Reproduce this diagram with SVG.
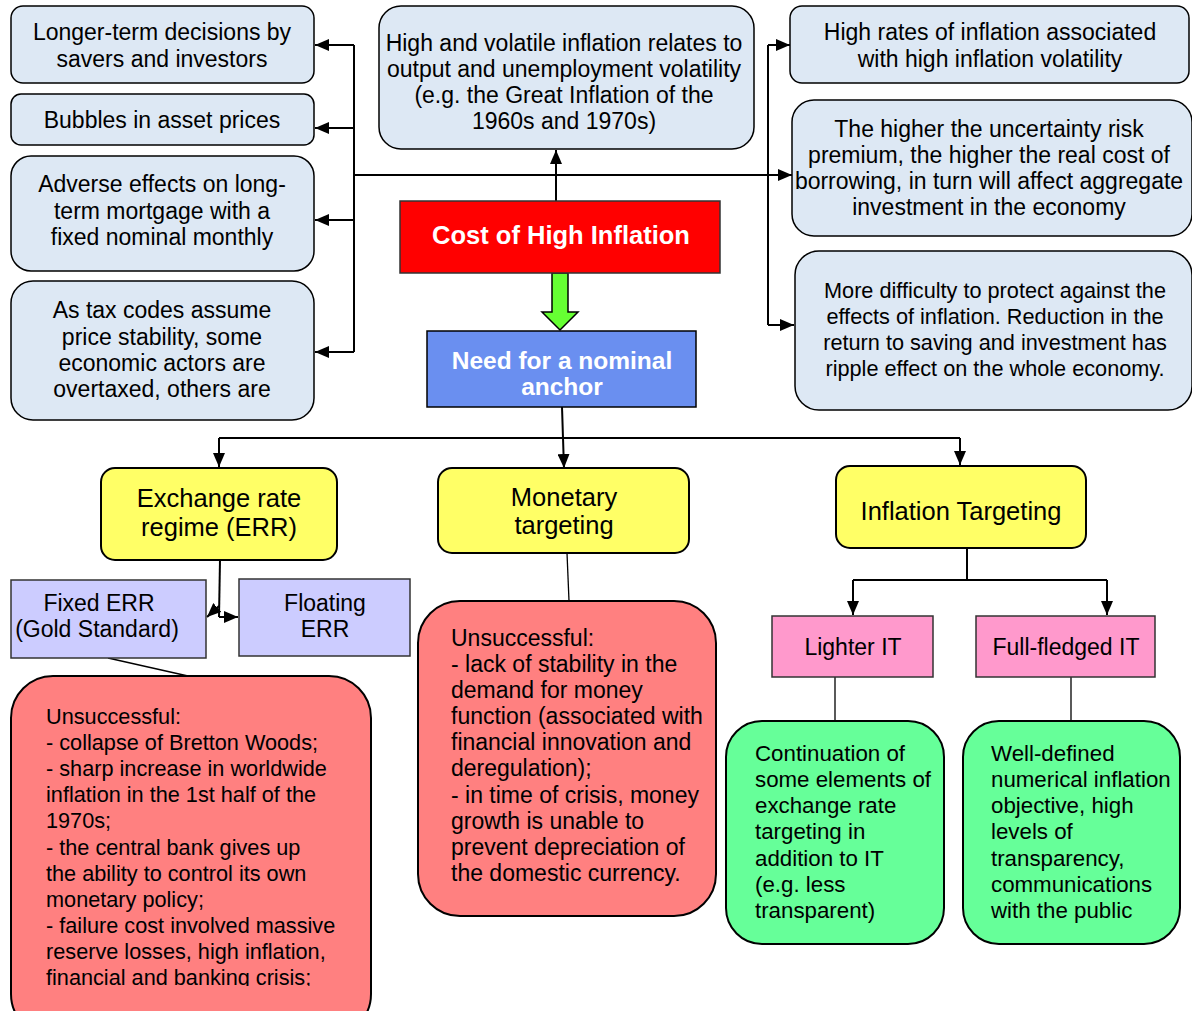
<svg xmlns="http://www.w3.org/2000/svg" width="1192" height="1011" viewBox="0 0 1192 1011">
<defs>
<marker id="ah" viewBox="0 0 14 12" refX="14" refY="6" markerWidth="14" markerHeight="12" markerUnits="userSpaceOnUse" orient="auto">
<path d="M0,0 L14,6 L0,12 Z" fill="#000"/>
</marker>
<clipPath id="cR2"><rect x="795" y="100" width="397" height="136"/></clipPath>
<clipPath id="cF1"><rect x="11" y="676" width="360" height="310"/></clipPath>
</defs>
<style>
text{font-family:"Liberation Sans",Arial,sans-serif;fill:#000;font-size:23px}
.c{text-anchor:middle}
.b{font-weight:bold;fill:#fff}
.s{font-size:21.7px}
.g{font-size:22.3px}
.y{font-size:25.5px}
.lb{fill:#dde8f4;stroke:#000;stroke-width:1.5}
.yl{fill:#ffff66;stroke:#000;stroke-width:2}
.lv{fill:#ccccff;stroke:#333;stroke-width:1.5}
.pk{fill:#ff99cc;stroke:#333;stroke-width:1.5}
.rd{fill:#ff8080;stroke:#000;stroke-width:2}
.gr{fill:#66ff99;stroke:#000;stroke-width:2}
.ln{fill:none;stroke:#000;stroke-width:2}
.th{fill:none;stroke:#000;stroke-width:1.3}
</style>
<rect width="1192" height="1011" fill="#fff"/>

<g id="connectors">
<polyline class="ln" points="354,45 354,352"/>
<line class="ln" x1="354" y1="45" x2="315" y2="45" marker-end="url(#ah)"/>
<line class="ln" x1="354" y1="128" x2="315" y2="128" marker-end="url(#ah)"/>
<line class="ln" x1="354" y1="220" x2="315" y2="220" marker-end="url(#ah)"/>
<line class="ln" x1="354" y1="352" x2="315" y2="352" marker-end="url(#ah)"/>
<line class="ln" x1="354" y1="175" x2="792" y2="175" marker-end="url(#ah)"/>
<line class="ln" x1="556" y1="201" x2="556" y2="150" marker-end="url(#ah)"/>
<polyline class="ln" points="768,45 768,325"/>
<line class="ln" x1="768" y1="45" x2="790" y2="45" marker-end="url(#ah)"/>
<line class="ln" x1="768" y1="325" x2="794" y2="325" marker-end="url(#ah)"/>
<path d="M552,273 L568,273 L568,312 L578,312 L560,330 L542,312 L552,312 Z" fill="#66ff33" stroke="#000" stroke-width="1.5"/>
<polyline class="ln" points="562,407 563,438"/>
<polyline class="ln" points="219,438 960,438"/>
<line class="ln" x1="219" y1="438" x2="219" y2="467" marker-end="url(#ah)"/>
<line class="ln" x1="563" y1="438" x2="564" y2="468" marker-end="url(#ah)"/>
<line class="ln" x1="960" y1="438" x2="960" y2="465" marker-end="url(#ah)"/>
<polyline class="ln" points="220,560 219,617"/>
<line class="ln" x1="219" y1="617" x2="238" y2="617" marker-end="url(#ah)"/>
<line class="ln" x1="219" y1="606" x2="207" y2="617" marker-end="url(#ah)"/>
<line class="th" x1="108" y1="658" x2="188" y2="676"/>
<line class="th" x1="567" y1="553" x2="569" y2="601"/>
<polyline class="ln" points="967,548 967,580"/>
<polyline class="ln" points="853,580 1107,580"/>
<line class="ln" x1="853" y1="580" x2="853" y2="615" marker-end="url(#ah)"/>
<line class="ln" x1="1107" y1="580" x2="1107" y2="615" marker-end="url(#ah)"/>
<line class="th" x1="835" y1="677" x2="835" y2="721"/>
<line class="th" x1="1071" y1="675" x2="1071" y2="721"/>
</g>

<g id="n-longer">
<rect class="lb" x="11" y="6" width="303" height="77" rx="12"/>
<text class="c" x="162" y="40">Longer-term decisions by</text>
<text class="c" x="162" y="67">savers and investors</text>
</g>
<g id="n-bubbles">
<rect class="lb" x="11" y="94" width="303" height="51" rx="10"/>
<text class="c" x="162" y="128">Bubbles in asset prices</text>
</g>
<g id="n-mortgage">
<rect class="lb" x="11" y="156" width="303" height="115" rx="20"/>
<text class="c" x="162" y="192">Adverse effects on long-</text>
<text class="c" x="162" y="219">term mortgage with a</text>
<text class="c" x="162" y="245">fixed nominal monthly</text>
</g>
<g id="n-tax">
<rect class="lb" x="11" y="281" width="303" height="139" rx="22"/>
<text class="c" x="162" y="318">As tax codes assume</text>
<text class="c" x="162" y="345">price stability, some</text>
<text class="c" x="162" y="371">economic actors are</text>
<text class="c" x="162" y="397">overtaxed, others are</text>
</g>
<g id="n-volatile">
<rect class="lb" x="379" y="6" width="375" height="143" rx="22"/>
<text class="c" x="564" y="51">High and volatile inflation relates to</text>
<text class="c" x="564" y="77">output and unemployment volatility</text>
<text class="c" x="564" y="103">(e.g. the Great Inflation of the</text>
<text class="c" x="564" y="129">1960s and 1970s)</text>
</g>
<g id="n-cost">
<rect x="400" y="201" width="320" height="72" fill="#ff0000" stroke="#333" stroke-width="1.5"/>
<text class="c b" x="561" y="244" style="font-size:25.5px">Cost of High Inflation</text>
</g>
<g id="n-anchor">
<rect x="427" y="331" width="269" height="76" fill="#6a8ff0" stroke="#000" stroke-width="1.5"/>
<text class="c b" x="562" y="369" style="font-size:24.5px">Need for a nominal</text>
<text class="c b" x="562" y="395" style="font-size:24.5px">anchor</text>
</g>
<g id="n-rates">
<rect class="lb" x="790" y="6" width="399" height="77" rx="12"/>
<text class="c" x="990" y="40">High rates of inflation associated</text>
<text class="c" x="990" y="67">with high inflation volatility</text>
</g>
<g id="n-premium">
<rect class="lb" x="792" y="100" width="400" height="136" rx="22"/>
<g clip-path="url(#cR2)">
<text class="c" x="989" y="137">The higher the uncertainty risk</text>
<text class="c" x="989" y="163">premium, the higher the real cost of</text>
<text class="c" x="989" y="189">borrowing, in turn will affect aggregate</text>
<text class="c" x="989" y="215">investment in the economy</text>
</g>
</g>
<g id="n-protect">
<rect class="lb" x="795" y="251" width="397" height="159" rx="24"/>
<text class="c s" x="995" y="298">More difficulty to protect against the</text>
<text class="c s" x="995" y="324">effects of inflation. Reduction in the</text>
<text class="c s" x="995" y="350">return to saving and investment has</text>
<text class="c s" x="995" y="376">ripple effect on the whole economy.</text>
</g>

<g id="n-err">
<rect class="yl" x="101" y="468" width="236" height="92" rx="14"/>
<text class="c y" x="219" y="507">Exchange rate</text>
<text class="c y" x="219" y="536">regime (ERR)</text>
</g>
<g id="n-monetary">
<rect class="yl" x="438" y="468" width="251" height="85" rx="14"/>
<text class="c y" x="564" y="506">Monetary</text>
<text class="c y" x="564" y="534">targeting</text>
</g>
<g id="n-it">
<rect class="yl" x="836" y="466" width="250" height="82" rx="14"/>
<text class="c y" x="961" y="520">Inflation Targeting</text>
</g>
<g id="n-fixed">
<rect class="lv" x="11" y="580" width="195" height="78"/>
<text class="c" x="99" y="611">Fixed ERR</text>
<text class="c" x="97" y="637">(Gold Standard)</text>
</g>
<g id="n-floating">
<rect class="lv" x="239" y="579" width="171" height="77"/>
<text class="c" x="325" y="611">Floating</text>
<text class="c" x="325" y="637">ERR</text>
</g>
<g id="n-lighter">
<rect class="pk" x="772" y="616" width="161" height="61"/>
<text class="c" x="853" y="655">Lighter IT</text>
</g>
<g id="n-full">
<rect class="pk" x="976" y="616" width="179" height="61"/>
<text class="c" x="1066" y="655">Full-fledged IT</text>
</g>

<g id="n-fail-err">
<rect class="rd" x="11" y="676" width="360" height="360" rx="42"/>
<g clip-path="url(#cF1)">
<text class="s" x="46" y="724">Unsuccessful:</text>
<text class="s" x="46" y="750">- collapse of Bretton Woods;</text>
<text class="s" x="46" y="776">- sharp increase in worldwide</text>
<text class="s" x="46" y="802">inflation in the 1st half of the</text>
<text class="s" x="46" y="828">1970s;</text>
<text class="s" x="46" y="855">- the central bank gives up</text>
<text class="s" x="46" y="881">the ability to control its own</text>
<text class="s" x="46" y="907">monetary policy;</text>
<text class="s" x="46" y="933">- failure cost involved massive</text>
<text class="s" x="46" y="959">reserve losses, high inflation,</text>
<text class="s" x="46" y="985">financial and banking crisis;</text>
</g>
</g>
<g id="n-fail-mon">
<rect class="rd" x="418" y="601" width="298" height="315" rx="42"/>
<text x="451" y="646">Unsuccessful:</text>
<text x="451" y="672">- lack of stability in the</text>
<text x="451" y="698">demand for money</text>
<text x="451" y="724">function (associated with</text>
<text x="451" y="750">financial innovation and</text>
<text x="451" y="776">deregulation);</text>
<text x="451" y="803">- in time of crisis, money</text>
<text x="451" y="829">growth is unable to</text>
<text x="451" y="855">prevent depreciation of</text>
<text x="451" y="881">the domestic currency.</text>
</g>
<g id="n-light-desc">
<rect class="gr" x="726" y="721" width="218" height="223" rx="36"/>
<text class="g" x="755" y="761">Continuation of</text>
<text class="g" x="755" y="787">some elements of</text>
<text class="g" x="755" y="813">exchange rate</text>
<text class="g" x="755" y="839">targeting in</text>
<text class="g" x="755" y="866">addition to IT</text>
<text class="g" x="755" y="892">(e.g. less</text>
<text class="g" x="755" y="918">transparent)</text>
</g>
<g id="n-full-desc">
<rect class="gr" x="963" y="721" width="217" height="223" rx="36"/>
<text class="g" x="991" y="761">Well-defined</text>
<text class="g" x="991" y="787">numerical inflation</text>
<text class="g" x="991" y="813">objective, high</text>
<text class="g" x="991" y="839">levels of</text>
<text class="g" x="991" y="866">transparency,</text>
<text class="g" x="991" y="892">communications</text>
<text class="g" x="991" y="918">with the public</text>
</g>
</svg>
